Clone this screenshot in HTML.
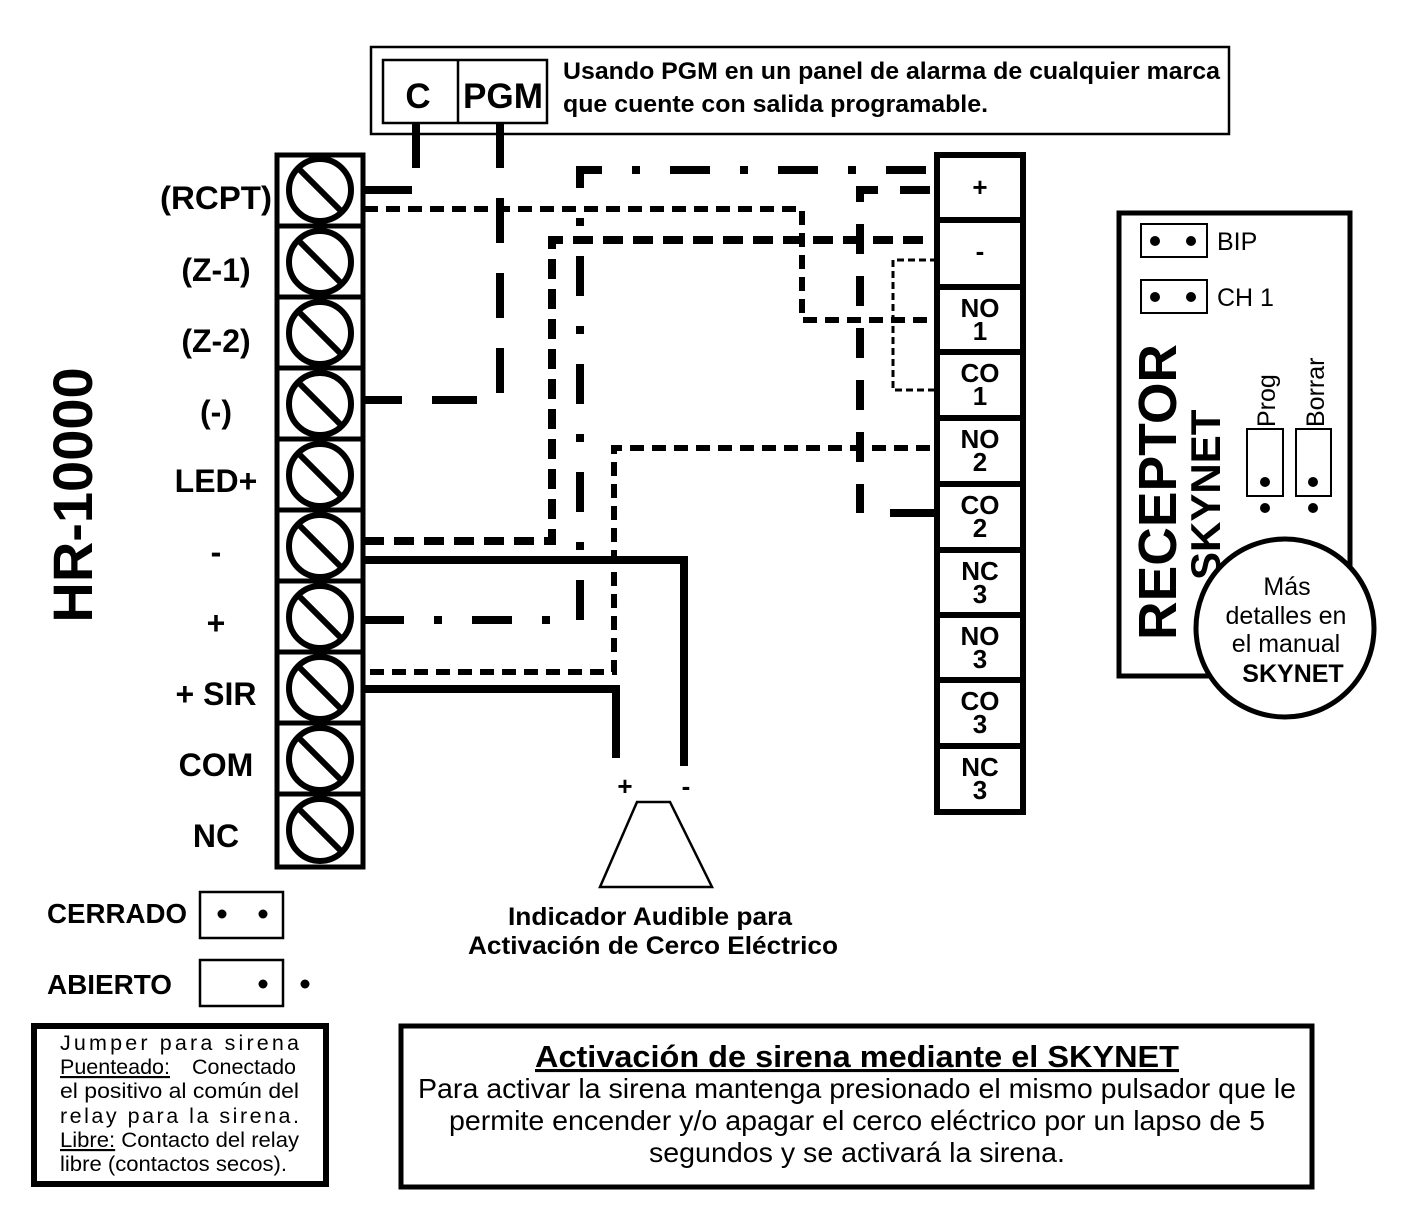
<!DOCTYPE html>
<html><head><meta charset="utf-8"><style>
html,body{margin:0;padding:0;background:#fff}
svg{display:block}
text{font-family:"Liberation Sans",Arial,sans-serif}
</style></head><body>
<svg width="1421" height="1230" viewBox="0 0 1421 1230" xmlns="http://www.w3.org/2000/svg">
<rect width="1421" height="1230" fill="#fff"/>

<!-- top PGM box -->
<rect x="371" y="47" width="858" height="87" fill="none" stroke="#000" stroke-width="2.5"/>
<rect x="383" y="60" width="164" height="63" fill="none" stroke="#000" stroke-width="2.5"/>
<line x1="458" y1="60" x2="458" y2="123" stroke="#000" stroke-width="2.5"/>
<text x="418" y="108" font-size="35" font-weight="bold" text-anchor="middle">C</text>
<text x="503" y="108" font-size="35" font-weight="bold" text-anchor="middle" textLength="80" lengthAdjust="spacingAndGlyphs">PGM</text>
<text x="563" y="79" font-size="24" font-weight="bold" textLength="657" lengthAdjust="spacingAndGlyphs">Usando PGM en un panel de alarma de cualquier marca</text>
<text x="563" y="112" font-size="24" font-weight="bold" textLength="425" lengthAdjust="spacingAndGlyphs">que cuente con salida programable.</text>

<!-- wires -->
<g fill="none" stroke="#000">
  <line x1="416" y1="123" x2="416" y2="168" stroke-width="8"/>
  <line x1="364" y1="190" x2="412" y2="190" stroke-width="8"/>
  <path d="M500 123 V400 H364" stroke-width="8" stroke-dasharray="45,30"/>
  <path d="M364 209 H802 V320 H930" stroke-width="6" stroke-dasharray="14,8"/>
  <path d="M364 541 H552 V240 H930" stroke-width="8" stroke-dasharray="20,10"/>
  <path d="M364 620 H580 V170 H930" stroke-width="8" stroke-dasharray="40,30,8,30"/>
  <path d="M930 190 H860 V513" stroke-width="8" stroke-dasharray="30,22"/>
  <line x1="890" y1="513" x2="937" y2="513" stroke-width="8"/>
  <path d="M937 260 H893 V390 H937" stroke-width="3" stroke-dasharray="7,4"/>
  <path d="M930 448 H614 V672 H364" stroke-width="6" stroke-dasharray="14,8"/>
  <path d="M364 560 H684 V766" stroke-width="8"/>
  <path d="M364 689 H616 V758" stroke-width="8"/>
</g>

<!-- left terminal block -->
<g stroke="#000" fill="none">
  <rect x="277" y="155" width="86" height="712" stroke-width="5"/>
  <g stroke-width="5">
    <line x1="277" y1="226" x2="363" y2="226"/><line x1="277" y1="297" x2="363" y2="297"/>
    <line x1="277" y1="368" x2="363" y2="368"/><line x1="277" y1="439" x2="363" y2="439"/>
    <line x1="277" y1="510" x2="363" y2="510"/><line x1="277" y1="581" x2="363" y2="581"/>
    <line x1="277" y1="652" x2="363" y2="652"/><line x1="277" y1="723" x2="363" y2="723"/>
    <line x1="277" y1="794" x2="363" y2="794"/>
  </g>
  <g stroke-width="6">
    <circle cx="320" cy="190" r="31"/><line x1="298" y1="168" x2="342" y2="212"/>
    <circle cx="320" cy="262" r="31"/><line x1="298" y1="240" x2="342" y2="284"/>
    <circle cx="320" cy="333" r="31"/><line x1="298" y1="311" x2="342" y2="355"/>
    <circle cx="320" cy="404" r="31"/><line x1="298" y1="382" x2="342" y2="426"/>
    <circle cx="320" cy="475" r="31"/><line x1="298" y1="453" x2="342" y2="497"/>
    <circle cx="320" cy="546" r="31"/><line x1="298" y1="524" x2="342" y2="568"/>
    <circle cx="320" cy="617" r="31"/><line x1="298" y1="595" x2="342" y2="639"/>
    <circle cx="320" cy="688" r="31"/><line x1="298" y1="666" x2="342" y2="710"/>
    <circle cx="320" cy="759" r="31"/><line x1="298" y1="737" x2="342" y2="781"/>
    <circle cx="320" cy="830" r="31"/><line x1="298" y1="808" x2="342" y2="852"/>
  </g>
</g>
<g font-size="32" font-weight="bold" text-anchor="middle">
  <text x="216" y="209" textLength="112" lengthAdjust="spacingAndGlyphs">(RCPT)</text>
  <text x="216" y="281">(Z-1)</text>
  <text x="216" y="352">(Z-2)</text>
  <text x="216" y="423">(-)</text>
  <text x="216" y="492">LED+</text>
  <text x="216" y="563">-</text>
  <text x="216" y="634">+</text>
  <text x="216" y="705">+ SIR</text>
  <text x="216" y="776">COM</text>
  <text x="216" y="847">NC</text>
</g>
<text transform="translate(92,495) rotate(-90)" font-size="56" font-weight="bold" text-anchor="middle">HR-10000</text>

<!-- right terminal block -->
<g stroke="#000" fill="none" stroke-width="6">
  <rect x="937" y="155" width="86" height="657"/>
  <line x1="937" y1="220" x2="1023" y2="220"/><line x1="937" y1="287" x2="1023" y2="287"/>
  <line x1="937" y1="352" x2="1023" y2="352"/><line x1="937" y1="418" x2="1023" y2="418"/>
  <line x1="937" y1="484" x2="1023" y2="484"/><line x1="937" y1="550" x2="1023" y2="550"/>
  <line x1="937" y1="615" x2="1023" y2="615"/><line x1="937" y1="680" x2="1023" y2="680"/>
  <line x1="937" y1="746" x2="1023" y2="746"/>
</g>
<g font-size="26" font-weight="bold" text-anchor="middle">
  <text x="980" y="196">+</text>
  <text x="980" y="260">-</text>
  <text x="980" y="317">NO</text><text x="980" y="340">1</text>
  <text x="980" y="382">CO</text><text x="980" y="405">1</text>
  <text x="980" y="448">NO</text><text x="980" y="471">2</text>
  <text x="980" y="514">CO</text><text x="980" y="537">2</text>
  <text x="980" y="580">NC</text><text x="980" y="603">3</text>
  <text x="980" y="645">NO</text><text x="980" y="668">3</text>
  <text x="980" y="710">CO</text><text x="980" y="733">3</text>
  <text x="980" y="776">NC</text><text x="980" y="799">3</text>
</g>

<!-- siren -->
<text x="625" y="795" font-size="26" font-weight="bold" text-anchor="middle">+</text>
<text x="686" y="795" font-size="26" font-weight="bold" text-anchor="middle">-</text>
<polygon points="637,802 670,802 712,887 600,887" fill="none" stroke="#000" stroke-width="2.5"/>
<text x="650" y="925" font-size="25" font-weight="bold" text-anchor="middle" textLength="284" lengthAdjust="spacingAndGlyphs">Indicador Audible para</text>
<text x="653" y="954" font-size="25" font-weight="bold" text-anchor="middle" textLength="370" lengthAdjust="spacingAndGlyphs">Activación de Cerco Eléctrico</text>

<!-- jumpers -->
<text x="47" y="923" font-size="28" font-weight="bold" textLength="140" lengthAdjust="spacingAndGlyphs">CERRADO</text>
<rect x="200" y="892" width="83" height="46" fill="none" stroke="#000" stroke-width="2.5"/>
<circle cx="222" cy="914" r="4.5"/><circle cx="263" cy="914" r="4.5"/>
<text x="47" y="994" font-size="28" font-weight="bold" textLength="125" lengthAdjust="spacingAndGlyphs">ABIERTO</text>
<rect x="200" y="960" width="83" height="46" fill="none" stroke="#000" stroke-width="2.5"/>
<circle cx="263" cy="984" r="4.5"/><circle cx="305" cy="984" r="4.5"/>

<rect x="34" y="1026" width="292" height="158" fill="none" stroke="#000" stroke-width="6"/>
<g font-size="21.5">
  <text x="60" y="1050" textLength="239" lengthAdjust="spacing">Jumper para sirena</text>
  <text x="60" y="1074"><tspan text-decoration="underline">Puenteado:</tspan><tspan x="192">Conectado</tspan></text>
  <text x="60" y="1098" textLength="239" lengthAdjust="spacingAndGlyphs">el positivo al común del</text>
  <text x="60" y="1123" textLength="239" lengthAdjust="spacing">relay para la sirena.</text>
  <text x="60" y="1147" textLength="239" lengthAdjust="spacingAndGlyphs"><tspan text-decoration="underline">Libre:</tspan> Contacto del relay</text>
  <text x="60" y="1171" textLength="227" lengthAdjust="spacingAndGlyphs">libre (contactos secos).</text>
</g>

<!-- activation box -->
<rect x="401" y="1026" width="911" height="161" fill="none" stroke="#000" stroke-width="5"/>
<text x="535" y="1067" font-size="31" font-weight="bold" text-decoration="underline" textLength="644" lengthAdjust="spacingAndGlyphs">Activación de sirena mediante el SKYNET  </text>
<g font-size="28" text-anchor="middle">
  <text x="857" y="1098" textLength="878" lengthAdjust="spacingAndGlyphs">Para activar la sirena mantenga presionado el mismo pulsador que le</text>
  <text x="857" y="1130" textLength="816" lengthAdjust="spacingAndGlyphs">permite encender y/o apagar el cerco eléctrico por un lapso de 5</text>
  <text x="857" y="1162" textLength="416" lengthAdjust="spacingAndGlyphs">segundos y se activará la sirena.</text>
</g>

<!-- receptor -->
<rect x="1119" y="213" width="231" height="463" fill="none" stroke="#000" stroke-width="5"/>
<rect x="1141" y="224" width="66" height="33" fill="none" stroke="#000" stroke-width="2"/>
<circle cx="1155" cy="241" r="5"/><circle cx="1191" cy="241" r="5"/>
<text x="1217" y="250" font-size="25">BIP</text>
<rect x="1141" y="280" width="66" height="33" fill="none" stroke="#000" stroke-width="2"/>
<circle cx="1155" cy="297" r="5"/><circle cx="1191" cy="297" r="5"/>
<text x="1217" y="306" font-size="25">CH 1</text>
<text transform="translate(1176,640) rotate(-90)" font-size="54" font-weight="bold" textLength="296" lengthAdjust="spacingAndGlyphs">RECEPTOR</text>
<text transform="translate(1220,580) rotate(-90)" font-size="42" font-weight="bold">SKYNET</text>
<text transform="translate(1275,427) rotate(-90)" font-size="25">Prog</text>
<text transform="translate(1324,427) rotate(-90)" font-size="25">Borrar</text>
<rect x="1247" y="429" width="36" height="67" fill="none" stroke="#000" stroke-width="2"/>
<rect x="1296" y="429" width="35" height="67" fill="none" stroke="#000" stroke-width="2"/>
<circle cx="1265" cy="482" r="5"/><circle cx="1265" cy="508" r="5"/>
<circle cx="1313" cy="482" r="5"/><circle cx="1313" cy="508" r="5"/>
<circle cx="1285" cy="628" r="89" fill="#fff" stroke="#000" stroke-width="5"/>
<g font-size="25" text-anchor="middle">
  <text x="1287" y="595">Más</text>
  <text x="1286" y="624">detalles en</text>
  <text x="1286" y="652">el manual</text>
  <text x="1293" y="682" font-weight="bold">SKYNET</text>
</g>
</svg>
</body></html>
